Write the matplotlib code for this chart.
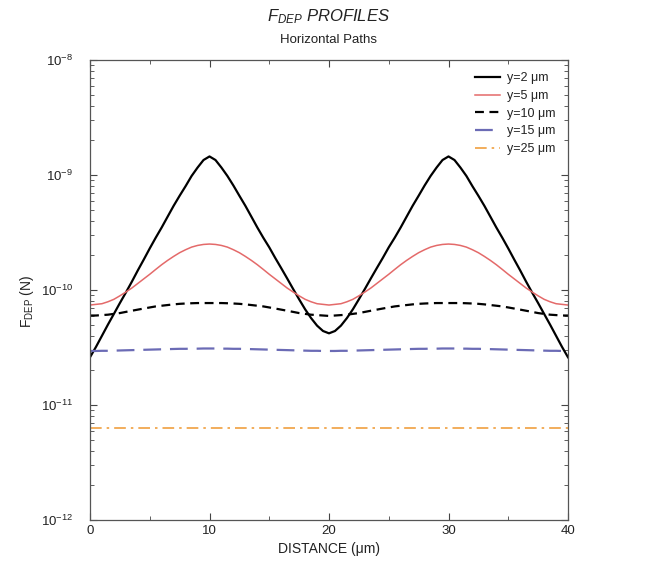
import numpy as np
import matplotlib
matplotlib.use("Agg")
import matplotlib.pyplot as plt
from matplotlib.ticker import LogLocator, MultipleLocator, NullFormatter

plt.rcParams["font.family"] = ["Liberation Sans", "DejaVu Sans"]
plt.rcParams["mathtext.fontset"] = "custom"
plt.rcParams["mathtext.rm"] = "Liberation Sans"
plt.rcParams["mathtext.it"] = "Liberation Sans:italic"

# Distance along the horizontal path (um)
distance = np.arange(0, 40.5, 0.5)

# F_DEP (N) at each height above the electrodes
f_y2 = [
    2.6e-11, 3.2e-11, 4.0e-11, 5.0e-11, 6.2e-11, 7.7e-11, 9.5e-11, 1.18e-10, 1.48e-10, 1.84e-10,
    2.3e-10, 2.85e-10, 3.5e-10, 4.35e-10, 5.4e-10, 6.6e-10, 8.0e-10, 9.8e-10, 1.16e-9, 1.35e-9,
    1.45e-9,
    1.35e-9, 1.16e-9, 9.8e-10, 8.1e-10, 6.6e-10, 5.4e-10, 4.35e-10, 3.5e-10, 2.85e-10, 2.35e-10,
    1.9e-10, 1.55e-10, 1.26e-10, 1.02e-10, 8.3e-11, 6.8e-11, 5.7e-11, 4.9e-11, 4.4e-11, 4.2e-11,
    4.4e-11, 4.9e-11, 5.7e-11, 6.8e-11, 8.3e-11, 1.02e-10, 1.26e-10, 1.55e-10, 1.9e-10, 2.35e-10,
    2.85e-10, 3.5e-10, 4.35e-10, 5.4e-10, 6.6e-10, 8.1e-10, 9.8e-10, 1.16e-9, 1.35e-9, 1.45e-9,
    1.35e-9, 1.16e-9, 9.8e-10, 8.0e-10, 6.6e-10, 5.4e-10, 4.35e-10, 3.5e-10, 2.85e-10, 2.3e-10,
    1.84e-10, 1.48e-10, 1.18e-10, 9.5e-11, 7.7e-11, 6.2e-11, 5.0e-11, 4.0e-11, 3.2e-11, 2.6e-11,
]

f_y5 = [
    7.4e-11, 7.5e-11, 7.6e-11, 7.9e-11, 8.3e-11, 8.9e-11, 9.6e-11, 1.04e-10, 1.14e-10, 1.25e-10,
    1.37e-10, 1.51e-10, 1.66e-10, 1.81e-10, 1.96e-10, 2.11e-10, 2.24e-10, 2.36e-10, 2.44e-10, 2.49e-10,
    2.51e-10,
    2.49e-10, 2.44e-10, 2.36e-10, 2.24e-10, 2.11e-10, 1.96e-10, 1.81e-10, 1.66e-10, 1.51e-10, 1.37e-10,
    1.25e-10, 1.14e-10, 1.04e-10, 9.6e-11, 8.9e-11, 8.3e-11, 7.9e-11, 7.6e-11, 7.5e-11, 7.4e-11,
    7.5e-11, 7.6e-11, 7.9e-11, 8.3e-11, 8.9e-11, 9.6e-11, 1.04e-10, 1.14e-10, 1.25e-10, 1.37e-10,
    1.51e-10, 1.66e-10, 1.81e-10, 1.96e-10, 2.11e-10, 2.24e-10, 2.36e-10, 2.44e-10, 2.49e-10, 2.51e-10,
    2.49e-10, 2.44e-10, 2.36e-10, 2.24e-10, 2.11e-10, 1.96e-10, 1.81e-10, 1.66e-10, 1.51e-10, 1.37e-10,
    1.25e-10, 1.14e-10, 1.04e-10, 9.6e-11, 8.9e-11, 8.3e-11, 7.9e-11, 7.6e-11, 7.5e-11, 7.4e-11,
]

# in units of 1e-11 N
f_y10_e11 = [
    6.0, 6.0, 6.05, 6.1, 6.2, 6.3, 6.45, 6.6, 6.75, 6.9,
    7.05, 7.2, 7.3, 7.4, 7.5, 7.58, 7.63, 7.67, 7.7, 7.7,
    7.7,
    7.7, 7.7, 7.67, 7.63, 7.58, 7.5, 7.4, 7.3, 7.2, 7.05,
    6.9, 6.75, 6.6, 6.45, 6.3, 6.2, 6.1, 6.05, 6.0, 5.95,
    6.0, 6.05, 6.1, 6.2, 6.3, 6.45, 6.6, 6.75, 6.9, 7.05,
    7.2, 7.3, 7.4, 7.5, 7.58, 7.63, 7.67, 7.7, 7.7, 7.7,
    7.7, 7.7, 7.67, 7.63, 7.58, 7.5, 7.4, 7.3, 7.2, 7.05,
    6.9, 6.75, 6.6, 6.45, 6.3, 6.2, 6.1, 6.05, 6.0, 6.0,
]

f_y15_e11 = [
    2.95, 2.95, 2.96, 2.96, 2.97, 2.98, 2.99, 3.0, 3.01, 3.02,
    3.03, 3.04, 3.05, 3.06, 3.07, 3.08, 3.08, 3.09, 3.09, 3.1,
    3.1,
    3.1, 3.09, 3.09, 3.08, 3.08, 3.07, 3.06, 3.05, 3.04, 3.03,
    3.02, 3.01, 3.0, 2.99, 2.98, 2.97, 2.96, 2.96, 2.95, 2.95,
    2.95, 2.96, 2.96, 2.97, 2.98, 2.99, 3.0, 3.01, 3.02, 3.03,
    3.04, 3.05, 3.06, 3.07, 3.08, 3.08, 3.09, 3.09, 3.1, 3.1,
    3.1, 3.09, 3.09, 3.08, 3.08, 3.07, 3.06, 3.05, 3.04, 3.03,
    3.02, 3.01, 3.0, 2.99, 2.98, 2.97, 2.96, 2.96, 2.95, 2.95,
]

distance_y25 = [0, 40]
f_y25 = [6.3e-12, 6.3e-12]

labels = ["y=2 \u03bcm", "y=5 \u03bcm", "y=10 \u03bcm", "y=15 \u03bcm", "y=25 \u03bcm"]
x_ticks = [0, 10, 20, 30, 40]

W, H = 654, 565
fig = plt.figure(figsize=(W / 100, H / 100), dpi=100)
ax = fig.add_axes([90 / W, 45 / H, 478 / W, 460 / H])

ax.plot(distance, f_y2, color="black", lw=1.6, label=labels[0])
ax.plot(distance, f_y5, color="#e46a6a", lw=1.1, label=labels[1])
ax.plot(distance, np.array(f_y10_e11) * 1e-11, color="black", lw=1.6,
        dashes=(4, 2.5), label=labels[2])
ax.plot(distance, np.array(f_y15_e11) * 1e-11, color="#6b6bb5", lw=1.6,
        dashes=(8, 4), label=labels[3])
ax.plot(distance_y25, f_y25, color="#f0a040", lw=1.2,
        dashes=(7, 3, 1.5, 3), label=labels[4])

ax.set_yscale("log")
ax.set_ylim(1e-12, 1e-8)
ax.set_xlim(0, 40)
ax.set_xticks(x_ticks)
ax.xaxis.set_minor_locator(MultipleLocator(5))
ax.yaxis.set_major_locator(LogLocator(base=10, numticks=10))
ax.yaxis.set_minor_locator(LogLocator(base=10, subs=np.arange(2, 10), numticks=20))
ax.yaxis.set_minor_formatter(NullFormatter())

ax.tick_params(which="both", direction="in", top=True, right=True,
               colors="#444444", labelcolor="#222222", labelsize=9.5)
ax.tick_params(which="major", length=5, width=0.8)
ax.tick_params(which="minor", length=3, width=0.6)
ax.tick_params(axis="y", which="major", pad=12)
for s in ax.spines.values():
    s.set_color("#555555")
    s.set_linewidth(0.9)

ax.set_xlabel("DISTANCE (\u03bcm)", fontsize=10, color="#222222", labelpad=4)
ax.set_ylabel("F$_{\\rm DEP}$ (N)", fontsize=10, color="#222222")
ax.yaxis.set_label_coords(-0.112, 0.475)

fig.text(329 / W, 1 - 17 / H, "$F_{DEP}$ PROFILES", ha="center", va="center",
         fontsize=12, style="italic", color="#222222")
fig.text(329 / W, 1 - 40 / H, "Horizontal Paths", ha="center", va="center",
         fontsize=9.5, color="#222222")

leg = ax.legend(loc="upper right", frameon=False, fontsize=9, handlelength=2.0,
                labelspacing=0.45, handletextpad=0.6, borderaxespad=0.6)
for t in leg.get_texts():
    t.set_color("#222222")

fig.savefig("out.png", dpi=100)
